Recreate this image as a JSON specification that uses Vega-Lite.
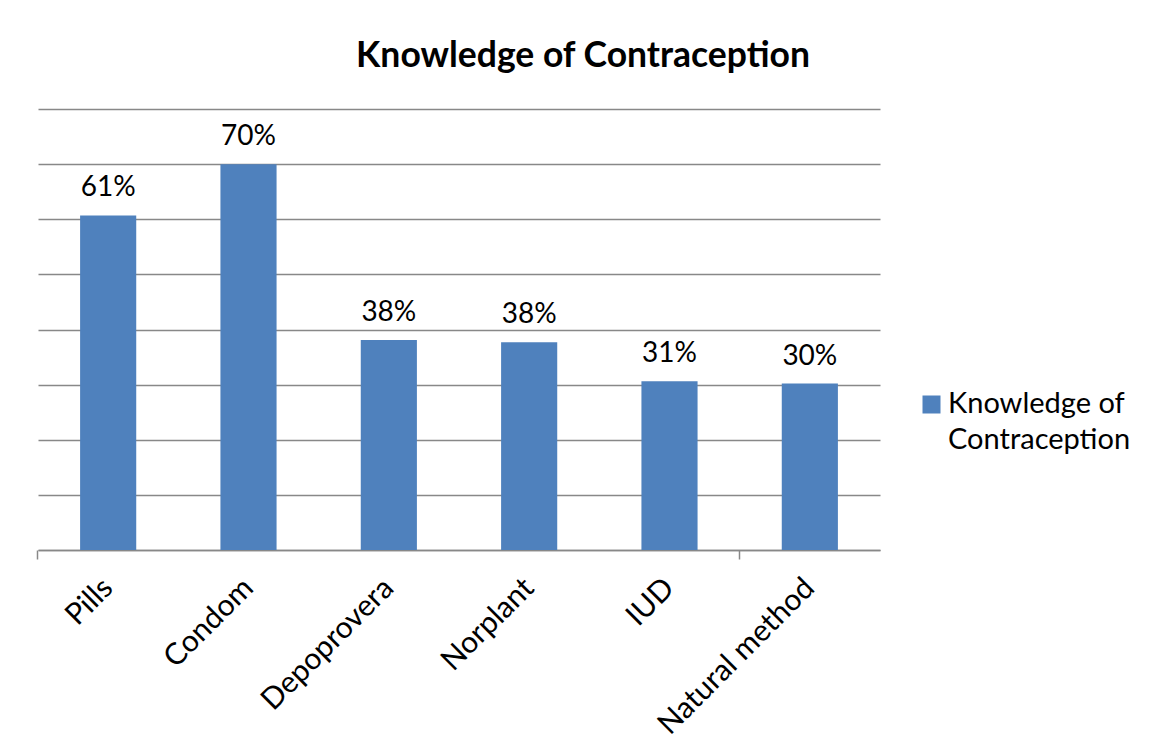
{
  "$schema": "https://vega.github.io/schema/vega-lite/v6.json",
  "autosize": {"type": "none"},
  "padding": {"left": 38, "top": 109, "right": 272, "bottom": 206},
  "width": 842,
  "height": 441,
  "background": "white",
  "title": {
    "text": "Knowledge of Contraception",
    "font": "Lato",
    "fontSize": 35.5,
    "fontWeight": "bold",
    "color": "black",
    "anchor": "middle",
    "frame": "group",
    "baseline": "alphabetic",
    "offset": 7,
    "dx": 124
  },
  "config": {
    "view": {"stroke": null},
    "font": "Lato"
  },
  "data": {
    "values": [
      {"method": "Pills", "value": 0.607},
      {"method": "Condom", "value": 0.70},
      {"method": "Depoprovera", "value": 0.381},
      {"method": "Norplant", "value": 0.377},
      {"method": "IUD", "value": 0.306},
      {"method": "Natural method", "value": 0.302}
    ]
  },
  "encoding": {
    "x": {
      "field": "method",
      "type": "nominal",
      "sort": null,
      "scale": {"paddingInner": 0.6, "paddingOuter": 0.3}
    },
    "y": {
      "field": "value",
      "type": "quantitative",
      "scale": {"domain": [0, 0.8], "nice": false}
    }
  },
  "resolve": {"axis": {"x": "independent"}},
  "layer": [
    {
      "mark": {"type": "bar", "color": "#4F81BD"},
      "encoding": {
        "x": {
          "field": "method",
          "type": "nominal",
          "sort": null,
          "axis": {
            "title": null,
            "orient": "bottom",
            "labelAngle": -45,
            "labelAlign": "right",
            "labelBaseline": "middle",
            "labelFont": "Lato",
            "labelFontSize": 30,
            "labelColor": "black",
            "labelPadding": 33,
            "ticks": false,
            "domainColor": "#888888",
            "domainWidth": 1.5,
            "labelLimit": 400
          }
        },
        "y": {
          "field": "value",
          "type": "quantitative",
          "axis": {
            "title": null,
            "labels": false,
            "ticks": false,
            "domain": false,
            "grid": true,
            "gridColor": "#888888",
            "gridWidth": 1.5,
            "values": [0, 0.1, 0.2, 0.3, 0.4, 0.5, 0.6, 0.7, 0.8]
          }
        },
        "color": {
          "datum": "Knowledge of Contraception",
          "type": "nominal",
          "scale": {"range": ["#4F81BD"]},
          "legend": {
            "title": null,
            "orient": "none",
            "legendX": 879,
            "legendY": 281,
            "padding": 0,
            "symbolType": "square",
            "symbolSize": 324,
            "symbolStrokeWidth": 0,
            "labelFont": "Lato",
            "labelFontSize": 29,
            "labelColor": "black",
            "labelBaseline": "alphabetic",
            "labelOffset": 2,
            "labelLimit": 400,
            "labelExpr": "['Knowledge of', 'Contraception']",
            "encode": {"labels": {"update": {"dy": {"value": 8}, "lineHeight": {"value": 36}}}}
          }
        }
      }
    },
    {
      "mark": {"type": "text", "baseline": "alphabetic", "dy": -19, "font": "Lato", "fontSize": 28, "color": "black"},
      "encoding": {
        "x": {
          "field": "method",
          "type": "nominal",
          "sort": null,
          "axis": {
            "title": null,
            "orient": "bottom",
            "values": ["Pills", "Natural method"],
            "bandPosition": -0.75,
            "labels": false,
            "domain": false,
            "grid": false,
            "ticks": true,
            "tickSize": 9,
            "tickWidth": 1.5,
            "tickColor": "#888888"
          }
        },
        "text": {"field": "value", "type": "quantitative", "format": ".0%"}
      }
    }
  ]
}
